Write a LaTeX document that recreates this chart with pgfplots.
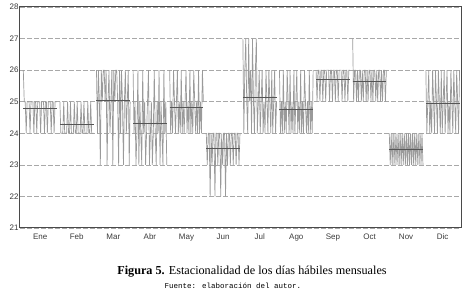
\documentclass[border=0pt]{standalone}
\usepackage{pgfplots}
\usepackage{pgfplotstable}
\pgfplotsset{compat=1.18}
\usepackage{fontspec}
\setmainfont{Liberation Serif}
\newfontfamily\arial{Liberation Sans}
\newfontfamily\mono{Liberation Mono}
\definecolor{datagray}{HTML}{9A9A9A}
\definecolor{avggray}{HTML}{555555}
\definecolor{framegray}{HTML}{4A4A4A}
\definecolor{gridgray}{HTML}{A8A8A8}
\definecolor{ticktext}{HTML}{3A3A3A}

\pgfplotstableread{
i Ene Feb Mar Abr May Jun Jul Ago Sep Oct Nov Dic
0 26 25 26 26 26 24 27 26 26 27 24 26
1 25 24 24 24 24 23 24 24 25 25 23 24
2 25 24 26 25 25 24 26 25 26 26 24 25
3 24 24 25 23 24 24 27 24 26 26 23 26
4 25 25 23 24 26 22 25 26 25 25 24 24
5 25 24 26 26 25 24 24 24 26 26 23 25
6 25 24 25 23 24 23 27 25 26 25 24 24
7 24 24 26 25 25 24 25 24 25 26 23 26
8 25 25 26 24 26 24 26 26 26 26 24 25
9 25 24 25 23 24 22 24 25 26 25 23 24
10 25 24 26 26 25 24 27 24 25 26 24 26
11 24 25 23 24 24 24 25 26 26 25 23 25
12 25 24 25 25 26 23 24 24 26 26 24 24
13 25 24 26 23 24 24 26 25 26 26 23 26
14 24 24 24 24 25 24 27 24 25 25 24 25
15 25 25 25 25 24 22 24 26 26 26 23 24
16 25 24 26 26 25 24 25 24 26 25 24 26
17 25 24 23 23 26 23 26 25 25 26 23 24
18 24 25 26 24 24 24 24 26 26 26 24 25
19 25 24 25 25 25 24 25 24 26 25 23 26
20 25 24 26 23 24 22 26 25 25 26 24 24
21 25 24 26 24 26 24 24 24 26 25 23 25
22 24 25 25 26 24 23 25 26 26 26 24 26
23 25 24 23 24 25 24 24 24 25 26 23 24
24 25 24 26 23 24 24 26 25 26 25 24 25
25 24 25 24 25 26 23 25 24 26 26 23 24
26 25 24 26 24 25 24 24 26 26 25 24 26
27 25 24 25 26 24 24 26 25 25 26 23 25
28 25 24 23 23 25 23 25 24 26 26 24 24
29 24 25 25 25 24 24 24 25 26 25 23 26
30 25 24 26 24 26 24 26 24 25 26 24 25
31 25 24 24 23 24 23 24 26 26 25 23 24
32 24 25 25 26 25 24 25 24 26 26 24 26
33 25 24 26 24 24 24 26 25 25 26 23 25
34 25 24 23 25 26 23 24 24 26 25 24 24
35 25 24 25 23 25 24 25 26 26 26 23 26
}\datatab

\begin{document}
\begin{tikzpicture}[x=1pt,y=1pt]
\useasboundingbox (0,0) rectangle (465,296);
\begin{axis}[
  at={(20pt,68pt)}, anchor=south west,
  scale only axis, width=441pt, height=221pt,
  xmin=0.45, xmax=12.5, ymin=21, ymax=28,
  ytick={21,22,23,24,25,26,27,28},
  xtick={1,2,3,4,5,6,7,8,9,10,11,12},
  xticklabels={Ene,Feb,Mar,Abr,May,Jun,Jul,Ago,Sep,Oct,Nov,Dic},
  major tick length=0pt,
  ymajorgrids,
  grid style={gridgray, line width=0.6pt, dash pattern=on 5pt off 2pt},
  axis line style={framegray, line width=1pt},
  tick label style={font=\arial\fontsize{8}{9}\selectfont, text=ticktext},
  /pgf/number format/assume math mode=true,
  yticklabel style={xshift=2pt},
  xticklabel style={yshift=-2pt},
  clip=true,
  dat/.style={datagray, line width=0.7pt, mark=none},
  avg/.style={avggray, line width=0.9pt, mark=none},
]
\addplot[dat] table[x expr={1-0.46+\thisrow{i}*0.0263}, y=Ene] \datatab;
\addplot[dat] table[x expr={2-0.46+\thisrow{i}*0.0263}, y=Feb] \datatab;
\addplot[dat] table[x expr={3-0.46+\thisrow{i}*0.0263}, y=Mar] \datatab;
\addplot[dat] table[x expr={4-0.46+\thisrow{i}*0.0263}, y=Abr] \datatab;
\addplot[dat] table[x expr={5-0.46+\thisrow{i}*0.0263}, y=May] \datatab;
\addplot[dat] table[x expr={6-0.46+\thisrow{i}*0.0263}, y=Jun] \datatab;
\addplot[dat] table[x expr={7-0.46+\thisrow{i}*0.0263}, y=Jul] \datatab;
\addplot[dat] table[x expr={8-0.46+\thisrow{i}*0.0263}, y=Ago] \datatab;
\addplot[dat] table[x expr={9-0.46+\thisrow{i}*0.0263}, y=Sep] \datatab;
\addplot[dat] table[x expr={10-0.46+\thisrow{i}*0.0263}, y=Oct] \datatab;
\addplot[dat] table[x expr={11-0.46+\thisrow{i}*0.0263}, y=Nov] \datatab;
\addplot[dat] table[x expr={12-0.46+\thisrow{i}*0.0263}, y=Dic] \datatab;
\addplot[avg] coordinates {(0.54,24.8) (1.46,24.8)};
\addplot[avg] coordinates {(1.54,24.28) (2.46,24.28)};
\addplot[avg] coordinates {(2.54,25.03) (3.46,25.03)};
\addplot[avg] coordinates {(3.54,24.31) (4.46,24.31)};
\addplot[avg] coordinates {(4.54,24.83) (5.46,24.83)};
\addplot[avg] coordinates {(5.54,23.53) (6.46,23.53)};
\addplot[avg] coordinates {(6.54,25.12) (7.46,25.12)};
\addplot[avg] coordinates {(7.54,24.77) (8.46,24.77)};
\addplot[avg] coordinates {(8.54,25.72) (9.46,25.72)};
\addplot[avg] coordinates {(9.54,25.64) (10.46,25.64)};
\addplot[avg] coordinates {(10.54,23.5) (11.46,23.5)};
\addplot[avg] coordinates {(11.54,24.94) (12.46,24.94)};
\end{axis}
\node[anchor=center, inner sep=0pt] at (252,24) {\fontsize{12.2}{14}\selectfont\textbf{Figura 5.} Estacionalidad de los días hábiles mensuales};
\node[anchor=center, inner sep=0pt] at (233,10.5) {\mono\fontsize{7.5}{9}\selectfont Fuente: elaboración del autor.};
\end{tikzpicture}
\end{document}
